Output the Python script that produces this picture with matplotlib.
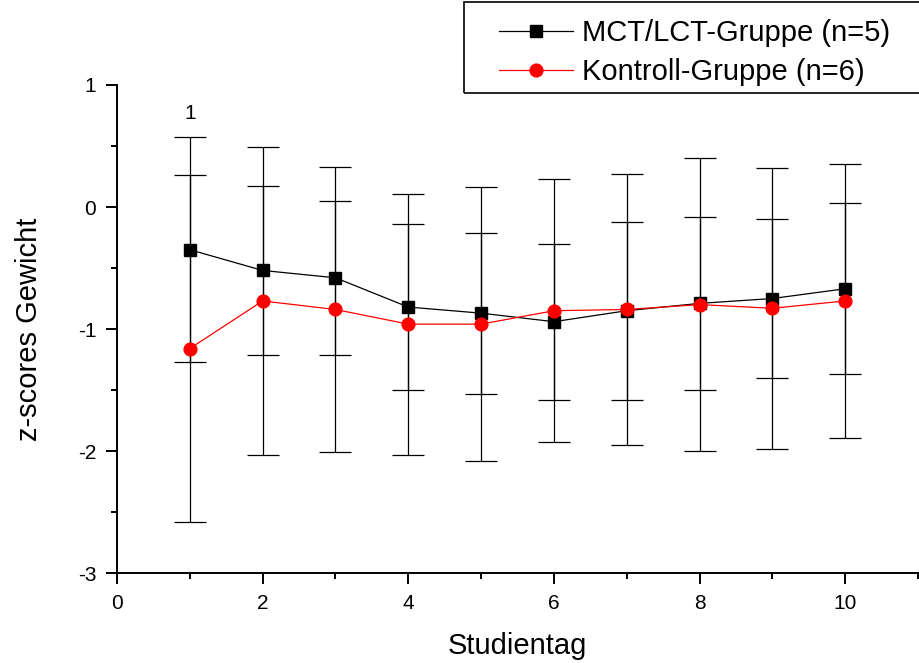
import matplotlib.pyplot as plt
from matplotlib.patches import Rectangle
from matplotlib.ticker import MultipleLocator

plt.rcParams['font.family'] = ['Liberation Sans', 'DejaVu Sans']
plt.rcParams['axes.unicode_minus'] = False

tage = [1, 2, 3, 4, 5, 6, 7, 8, 9, 10]

mct_mean = [-0.35, -0.52, -0.58, -0.82, -0.87, -0.94, -0.85, -0.79, -0.75, -0.67]
mct_sd = [0.92, 0.69, 0.63, 0.68, 0.66, 0.64, 0.73, 0.71, 0.65, 0.70]

kontroll_mean = [-1.16, -0.77, -0.84, -0.96, -0.96, -0.85, -0.84, -0.80, -0.83, -0.77]
kontroll_sd = [1.42, 1.26, 1.17, 1.07, 1.12, 1.08, 1.11, 1.20, 1.15, 1.12]

fig = plt.figure(figsize=(9.19, 6.63), dpi=100)
ax = fig.add_axes([0.1273, 0.1357, 0.8716, 0.7361])

ax.errorbar(tage, mct_mean, yerr=mct_sd, fmt='none', ecolor='black',
            elinewidth=0.9, capsize=11.5, capthick=0.9, zorder=2)
ax.errorbar(tage, kontroll_mean, yerr=kontroll_sd, fmt='none', ecolor='black',
            elinewidth=0.9, capsize=11.5, capthick=0.9, zorder=2)

ax.plot(tage, mct_mean, color='black', linewidth=0.9, marker='s',
        markersize=8.6, label='MCT/LCT-Gruppe (n=5)', zorder=3)
ax.plot(tage, kontroll_mean, color='red', linewidth=0.9, marker='o',
        markersize=9.2, label='Kontroll-Gruppe (n=6)', zorder=4)

ax.text(1, 0.77, '1', ha='center', va='center', fontsize=15)

ax.set_xlim(0, 11)
ax.set_ylim(-3, 1)
ax.xaxis.set_major_locator(MultipleLocator(2))
ax.xaxis.set_minor_locator(MultipleLocator(1))
ax.yaxis.set_major_locator(MultipleLocator(1))
ax.yaxis.set_minor_locator(MultipleLocator(0.5))

for side in ['top', 'right']:
    ax.spines[side].set_visible(False)
for side in ['left', 'bottom']:
    ax.spines[side].set_linewidth(1.4)

ax.tick_params(which='major', direction='out', length=8, width=1.4,
               labelsize=15, pad=7)
ax.tick_params(which='minor', direction='out', length=4.5, width=1.4)

ax.set_xlabel('Studientag', fontsize=21, labelpad=14)
ax.set_ylabel('z-scores Gewicht', fontsize=21, labelpad=25)

# legend frame drawn by hand so the handles can sit further in
fig.patches.append(Rectangle((464 / 919, 1 - 93 / 663), 0.52, 91 / 663,
                             transform=fig.transFigure, fill=False,
                             edgecolor='black', linewidth=1.2))
fig.legend(loc='upper left', bbox_to_anchor=(499 / 919, 1 - 19 / 663),
           fontsize=21, frameon=False, handlelength=2.55, borderpad=0,
           labelspacing=0.38, handletextpad=0.3, borderaxespad=0)

fig.savefig('out.png', dpi=100)
